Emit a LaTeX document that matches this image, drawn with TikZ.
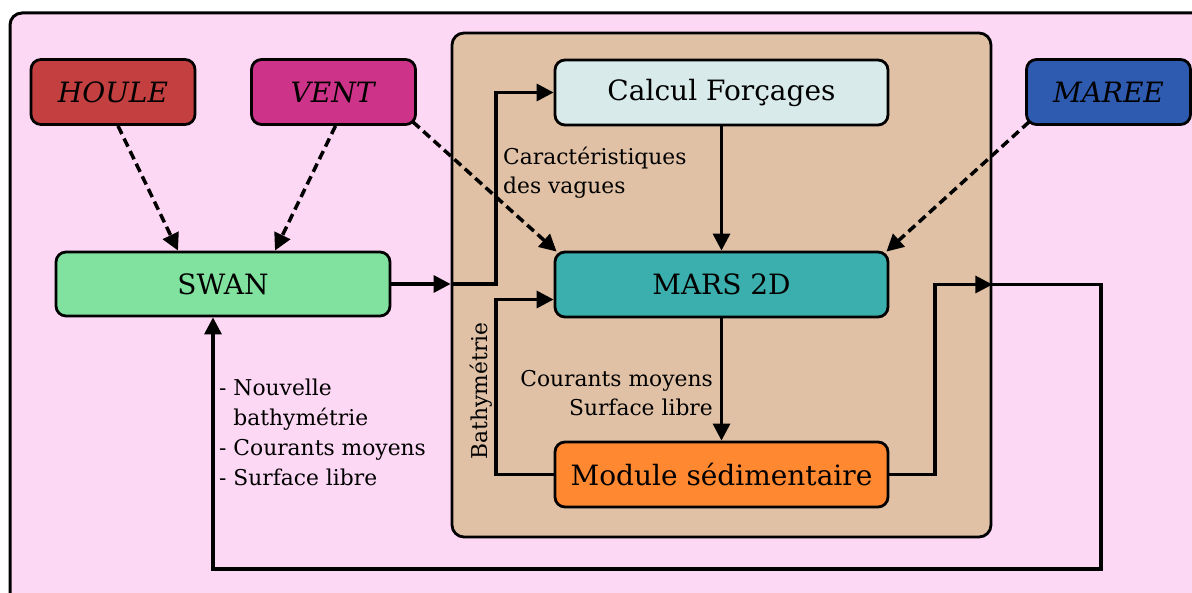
\documentclass[tikz,border=0pt]{standalone}
\usepackage{fontspec}
\setmainfont{DejaVu Serif}
\usetikzlibrary{arrows.meta,calc}
\definecolor{bgpink}{RGB}{252,216,244}
\definecolor{zonebrown}{RGB}{224,193,165}
\definecolor{houlered}{RGB}{196,64,64}
\definecolor{ventmag}{RGB}{205,51,136}
\definecolor{swangreen}{RGB}{128,226,158}
\definecolor{calcblue}{RGB}{216,234,234}
\definecolor{marsteal}{RGB}{59,175,173}
\definecolor{modorange}{RGB}{255,136,48}
\definecolor{mareeblue}{RGB}{46,91,175}
\tikzset{
  box/.style={draw, line width=2.8pt, rounded corners=10pt, minimum height=65pt, inner sep=0pt, font=\fontsize{28}{32}\selectfont},
  smallbox/.style={box, minimum width=164pt},
  bigbox/.style={box, minimum width=333pt},
  lbl/.style={font=\fontsize{21.8}{28.5}\selectfont, inner sep=0pt},
  arr/.style={line width=3.2pt, -{Triangle[length=17pt,width=17pt]}},
  dsh/.style={line width=3.5pt, dash pattern=on 9pt off 5pt, -{Triangle[length=17pt,width=17pt]}},
}
\begin{document}
\begin{tikzpicture}[x=1pt,y=-1pt]
\useasboundingbox (0,0) rectangle (1192,593);
\begin{scope}
\clip (0,0) rectangle (1192,593);
\draw[line width=3pt, fill=bgpink, rounded corners=12pt] (10,13) rectangle (1240,650);
\end{scope}
\node[draw, line width=2.8pt, fill=zonebrown, rounded corners=12pt, minimum width=539pt, minimum height=504pt, inner sep=0pt] (zone) at (721.5,285) {};

\node[smallbox, fill=houlered] (houle) at (113,92) {\textit{HOULE}};
\node[smallbox, fill=ventmag] (vent) at (333.5,92) {\textit{VENT}};
\node[smallbox, fill=mareeblue] (maree) at (1108.5,92) {\textit{MAREE}};
\node[box, fill=swangreen, minimum width=334pt, minimum height=64pt] (swan) at (223,284) {SWAN};
\node[bigbox, fill=calcblue] (calc) at (721.5,92.5) {Calcul Forçages};
\node[bigbox, fill=marsteal] (mars) at (721.5,284.5) {MARS 2D};
\node[bigbox, fill=modorange] (mod) at (721.5,474.5) {Module sédimentaire};

\coordinate (bx) at (496,0);
\coordinate (fx) at (935,0);
\coordinate (fb) at (1101,569);

% dashed inputs
\draw[dsh] ([xshift=5pt]houle.south) -- ([xshift=-45pt]swan.north);
\draw[dsh] ([xshift=2pt]vent.south) -- ([xshift=52pt]swan.north);
\draw[dsh] ([xshift=-4pt,yshift=4pt]vent.south east) -- ([xshift=3pt,yshift=-1pt]mars.north west);
\draw[dsh] ([xshift=4pt,yshift=4pt]maree.south west) -- ([xshift=-3pt,yshift=-1pt]mars.north east);

% SWAN -> Calcul
\draw[arr] (swan.east) -- (swan.east -| zone.west);
\draw[arr] (swan.east -| zone.west) -- (swan.east -| bx) |- (calc.west);
% Calcul -> MARS -> Module
\draw[arr] (calc) -- (mars);
\draw[arr] (mars) -- (mod);
% Bathymetrie
\draw[arr] (mod.west) -- (mod.west -| bx) |- ($(mars.west)+(0,15)$);
% feedback
\draw[arr] (mod.east) -- (mod.east -| fx) |- (mars.east -| zone.east);
\draw[arr] (mars.east -| zone.east) -| (fb) -| ([xshift=-10pt]swan.south);

% labels
\node[lbl, anchor=north west, align=left] (lcar) at (503,147) {Caractéristiques\\des vagues};
\node[lbl, anchor=east, align=right] (lcour) at (713,393) {Courants moyens\\Surface libre};
\node[lbl, rotate=90] (lbat) at (481,391) {Bathymétrie};
\node[lbl, anchor=north west, align=left, font=\fontsize{21.8}{30}\selectfont] (lswan) at (219,379) {- Nouvelle\\\hphantom{- }bathymétrie\\- Courants moyens\\- Surface libre};
\end{tikzpicture}
\end{document}
